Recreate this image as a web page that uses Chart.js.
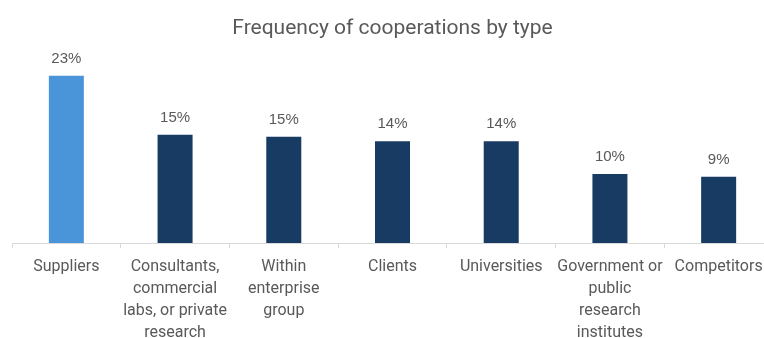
<!DOCTYPE html>
<html>
<head>
<meta charset="utf-8">
<script src="https://cdn.jsdelivr.net/npm/chart.js@4.4.1/dist/chart.umd.min.js"></script>
<style>
    html, body { margin: 0; padding: 0; background: #fff; overflow: hidden; }
    #wrap { position: relative; width: 773px; height: 338px; }
</style>
</head>
<body>
<div id="wrap"><canvas id="coopChart"></canvas></div>
<script>
// cooperation partner types, wrapped the way they show under the axis
const categories = [
    ['Suppliers'],
    ['Consultants,', 'commercial', 'labs, or private', 'research'],
    ['Within', 'enterprise', 'group'],
    ['Clients'],
    ['Universities'],
    ['Government or', 'public', 'research', 'institutes'],
    ['Competitors']
];
// share of enterprises cooperating with each partner type (%)
const shares = [23.0, 14.9, 14.6, 14.0, 14.0, 9.5, 9.1];
const barColors = ['#4a94da', '#173b62', '#173b62', '#173b62', '#173b62', '#173b62', '#173b62'];
const yMax = 25;

const grey = '#595959';

// percentage labels above each bar
const valueLabels = {
    id: 'valueLabels',
    afterDatasetsDraw(chart) {
        const ctx = chart.ctx;
        const meta = chart.getDatasetMeta(0);
        ctx.save();
        ctx.font = '15px "Liberation Sans", Arial, sans-serif';
        ctx.fillStyle = grey;
        ctx.textAlign = 'center';
        ctx.textBaseline = 'alphabetic';
        meta.data.forEach((bar, i) => {
            ctx.fillText(Math.round(shares[i]) + '%', bar.x, bar.y - 13);
        });
        ctx.restore();
    }
};

const ctx = document.getElementById('coopChart').getContext('2d');
new Chart(ctx, {
    type: 'bar',
    data: {
        labels: categories,
        datasets: [{
            data: shares,
            backgroundColor: barColors,
            borderWidth: 0,
            categoryPercentage: 1,
            barPercentage: 0.322
        }]
    },
    options: {
        responsive: true,
        maintainAspectRatio: false,
        animation: false,
        layout: { padding: { left: 12, right: 0, top: 0, bottom: 0 } },
        plugins: {
            legend: { display: false },
            tooltip: { enabled: false },
            title: {
                display: true,
                text: 'Frequency of cooperations by type',
                color: grey,
                font: { family: 'Roboto', size: 21, weight: 'normal', lineHeight: 1.2 },
                padding: { top: 16, bottom: 20 }
            }
        },
        scales: {
            y: { display: false, min: 0, max: yMax },
            x: {
                afterFit(scale) { scale.height = 95; },
                border: { display: true, color: '#d9d9d9', width: 1 },
                grid: {
                    offset: true,
                    drawOnChartArea: false,
                    drawTicks: true,
                    tickLength: 5,
                    color: '#d9d9d9'
                },
                ticks: {
                    autoSkip: false,
                    maxRotation: 0,
                    minRotation: 0,
                    padding: 8,
                    color: grey,
                    font: { family: 'Roboto', size: 16, lineHeight: 1.375 }
                }
            }
        }
    },
    plugins: [valueLabels]
});
</script>
</body>
</html>
